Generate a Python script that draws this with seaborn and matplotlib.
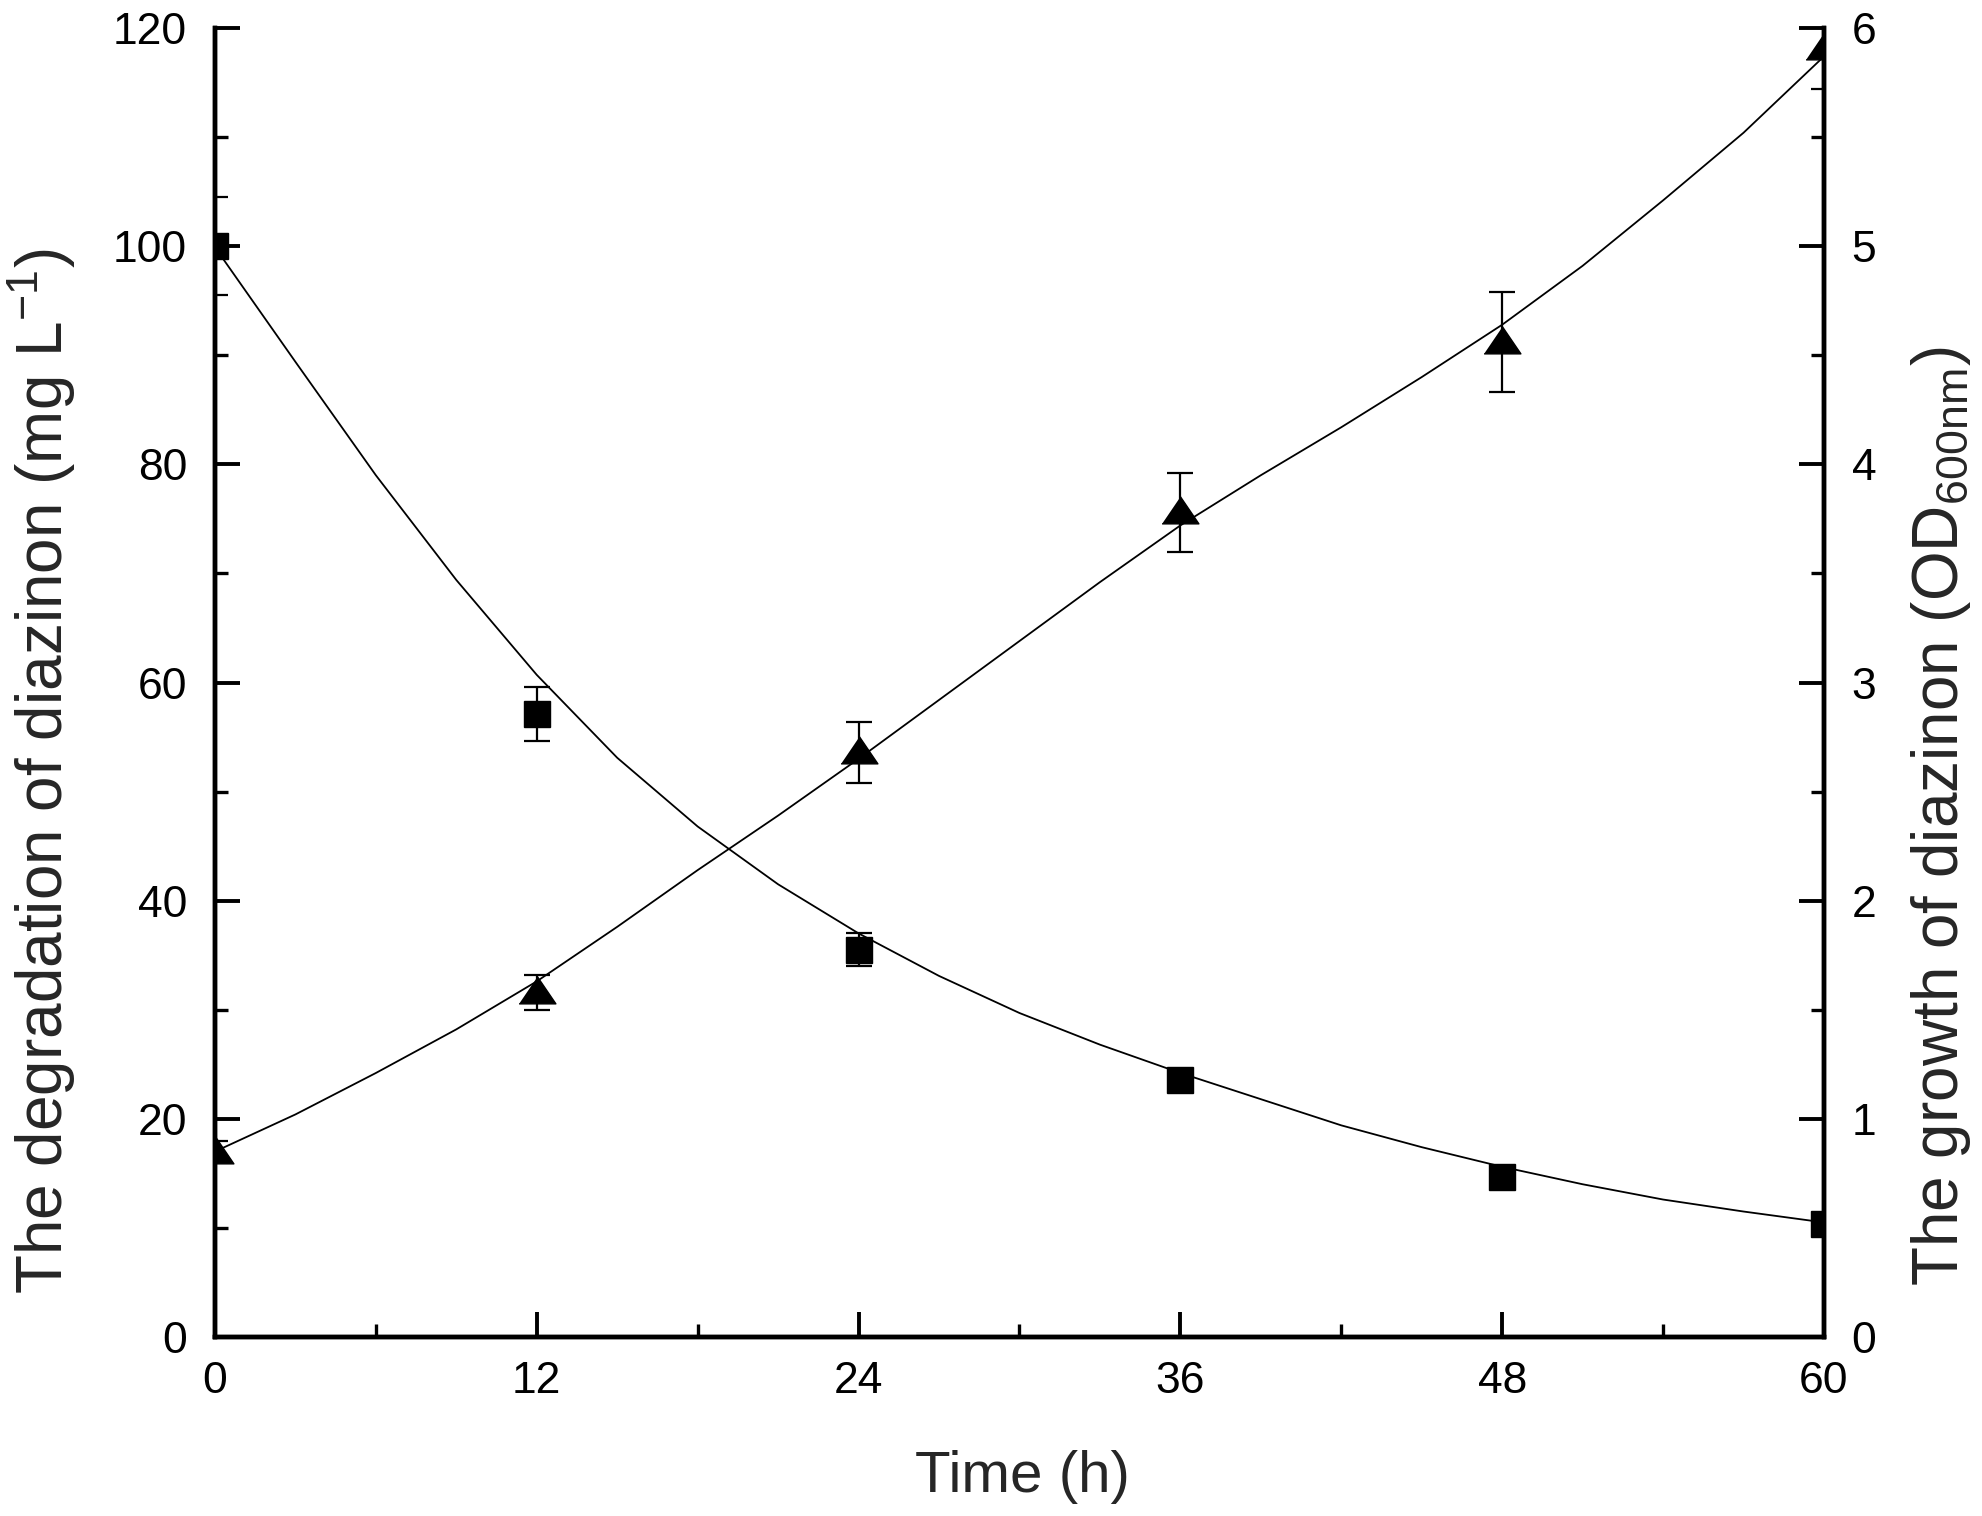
import numpy as np
import pandas as pd
import matplotlib
matplotlib.use("Agg")
import matplotlib.pyplot as plt
from matplotlib.ticker import MultipleLocator
import seaborn as sns

time_pts = [0, 12, 24, 36, 48, 60]
degradation = [100.0, 57.1, 35.5, 23.6, 14.7, 10.4]      # mg/L
degradation_err = [4.5, 2.5, 1.5, 0.6, 0.6, 0.5]
growth = [0.85, 1.58, 2.68, 3.78, 4.56, 5.91]            # OD600
growth_err = [0.05, 0.08, 0.14, 0.18, 0.23, 0.19]

# fitted curves, every 3 h
fit_time = [0, 3, 6, 9, 12, 15, 18, 21, 24, 27, 30,
            33, 36, 39, 42, 45, 48, 51, 54, 57, 60]
fit_degradation = [99.9, 89.4, 79.0, 69.4, 60.7, 53.1, 46.8, 41.5, 37.0, 33.1, 29.7,
                   26.8, 24.2, 21.8, 19.4, 17.4, 15.6, 14.0, 12.6, 11.5, 10.5]
fit_growth = [0.85, 1.02, 1.21, 1.41, 1.63, 1.88, 2.14, 2.39, 2.65, 2.92, 3.19,
              3.46, 3.72, 3.95, 4.17, 4.40, 4.64, 4.91, 5.21, 5.52, 5.87]

sns.set_theme(style="ticks")
plt.rcParams['font.family'] = ['Liberation Sans', 'DejaVu Sans']
plt.rcParams['mathtext.fontset'] = 'custom'
plt.rcParams['mathtext.rm'] = 'Liberation Sans'
plt.rcParams['mathtext.it'] = 'Liberation Sans'

fig = plt.figure(figsize=(19.83, 15.16), dpi=100)
ax = fig.add_axes([0.1084, 0.1181, 0.8114, 0.8634])
ax2 = ax.twinx()

fit_df = pd.DataFrame({'t': fit_time, 'deg': fit_degradation, 'od': fit_growth})

# degradation (left axis)
sns.lineplot(data=fit_df, x='t', y='deg', ax=ax, color='black', linewidth=1.3)
ax.errorbar(time_pts, degradation, yerr=degradation_err, fmt='none',
            ecolor='black', elinewidth=1.6, capsize=9.5, capthick=1.6)
ax.plot(time_pts, degradation, linestyle='none', marker='s',
        markersize=19, color='black')

# growth (right axis)
tri = [(-0.68, -0.42), (0.68, -0.42), (0.0, 0.58)]
sns.lineplot(data=fit_df, x='t', y='od', ax=ax2, color='black', linewidth=1.3)
ax2.errorbar(time_pts, growth, yerr=growth_err, fmt='none',
             ecolor='black', elinewidth=1.6, capsize=9.5, capthick=1.6)
ax2.plot(time_pts, growth, linestyle='none', marker=tri,
         markersize=26.5, color='black')

ax.set_xlim(0, 60)
ax.set_ylim(0, 120)
ax2.set_ylim(0, 6)
ax.xaxis.set_major_locator(MultipleLocator(12))
ax.xaxis.set_minor_locator(MultipleLocator(6))
ax.yaxis.set_major_locator(MultipleLocator(20))
ax.yaxis.set_minor_locator(MultipleLocator(10))
ax2.yaxis.set_major_locator(MultipleLocator(1))
ax2.yaxis.set_minor_locator(MultipleLocator(0.5))

for a in (ax, ax2):
    a.spines['top'].set_visible(False)
    for s in ('left', 'right', 'bottom'):
        a.spines[s].set_linewidth(3.2)
        a.spines[s].set_color('black')
    a.tick_params(which='major', direction='in', length=18, width=2.8,
                  labelsize=32, colors='black')
    a.tick_params(which='minor', direction='in', length=9.5, width=2.4,
                  colors='black')
ax.tick_params(axis='y', pad=20)
ax.tick_params(axis='x', pad=17)
ax2.tick_params(axis='y', pad=20)
ax.tick_params(axis='x', which='both', top=False)

ax.set_xlabel('Time (h)', fontsize=42)
ax.set_ylabel('The degradation of diazinon (mg L$^{\\mathrm{-1}}$)', fontsize=46)
ax2.set_ylabel('The growth of diazinon (OD$_{\\mathrm{600nm}}$)', fontsize=46)
for lab in (ax.xaxis.label, ax.yaxis.label, ax2.yaxis.label):
    lab.set_va('center')
    lab.set_ha('center')
ax.xaxis.set_label_coords(0.5016, -0.107)
ax.yaxis.set_label_coords(-0.1075, 0.432)
ax2.yaxis.set_label_coords(1.0727, 0.398)

ax.set_zorder(ax2.get_zorder() + 1)
ax.patch.set_visible(False)

fig.savefig('out.png', dpi=100, facecolor='white')
